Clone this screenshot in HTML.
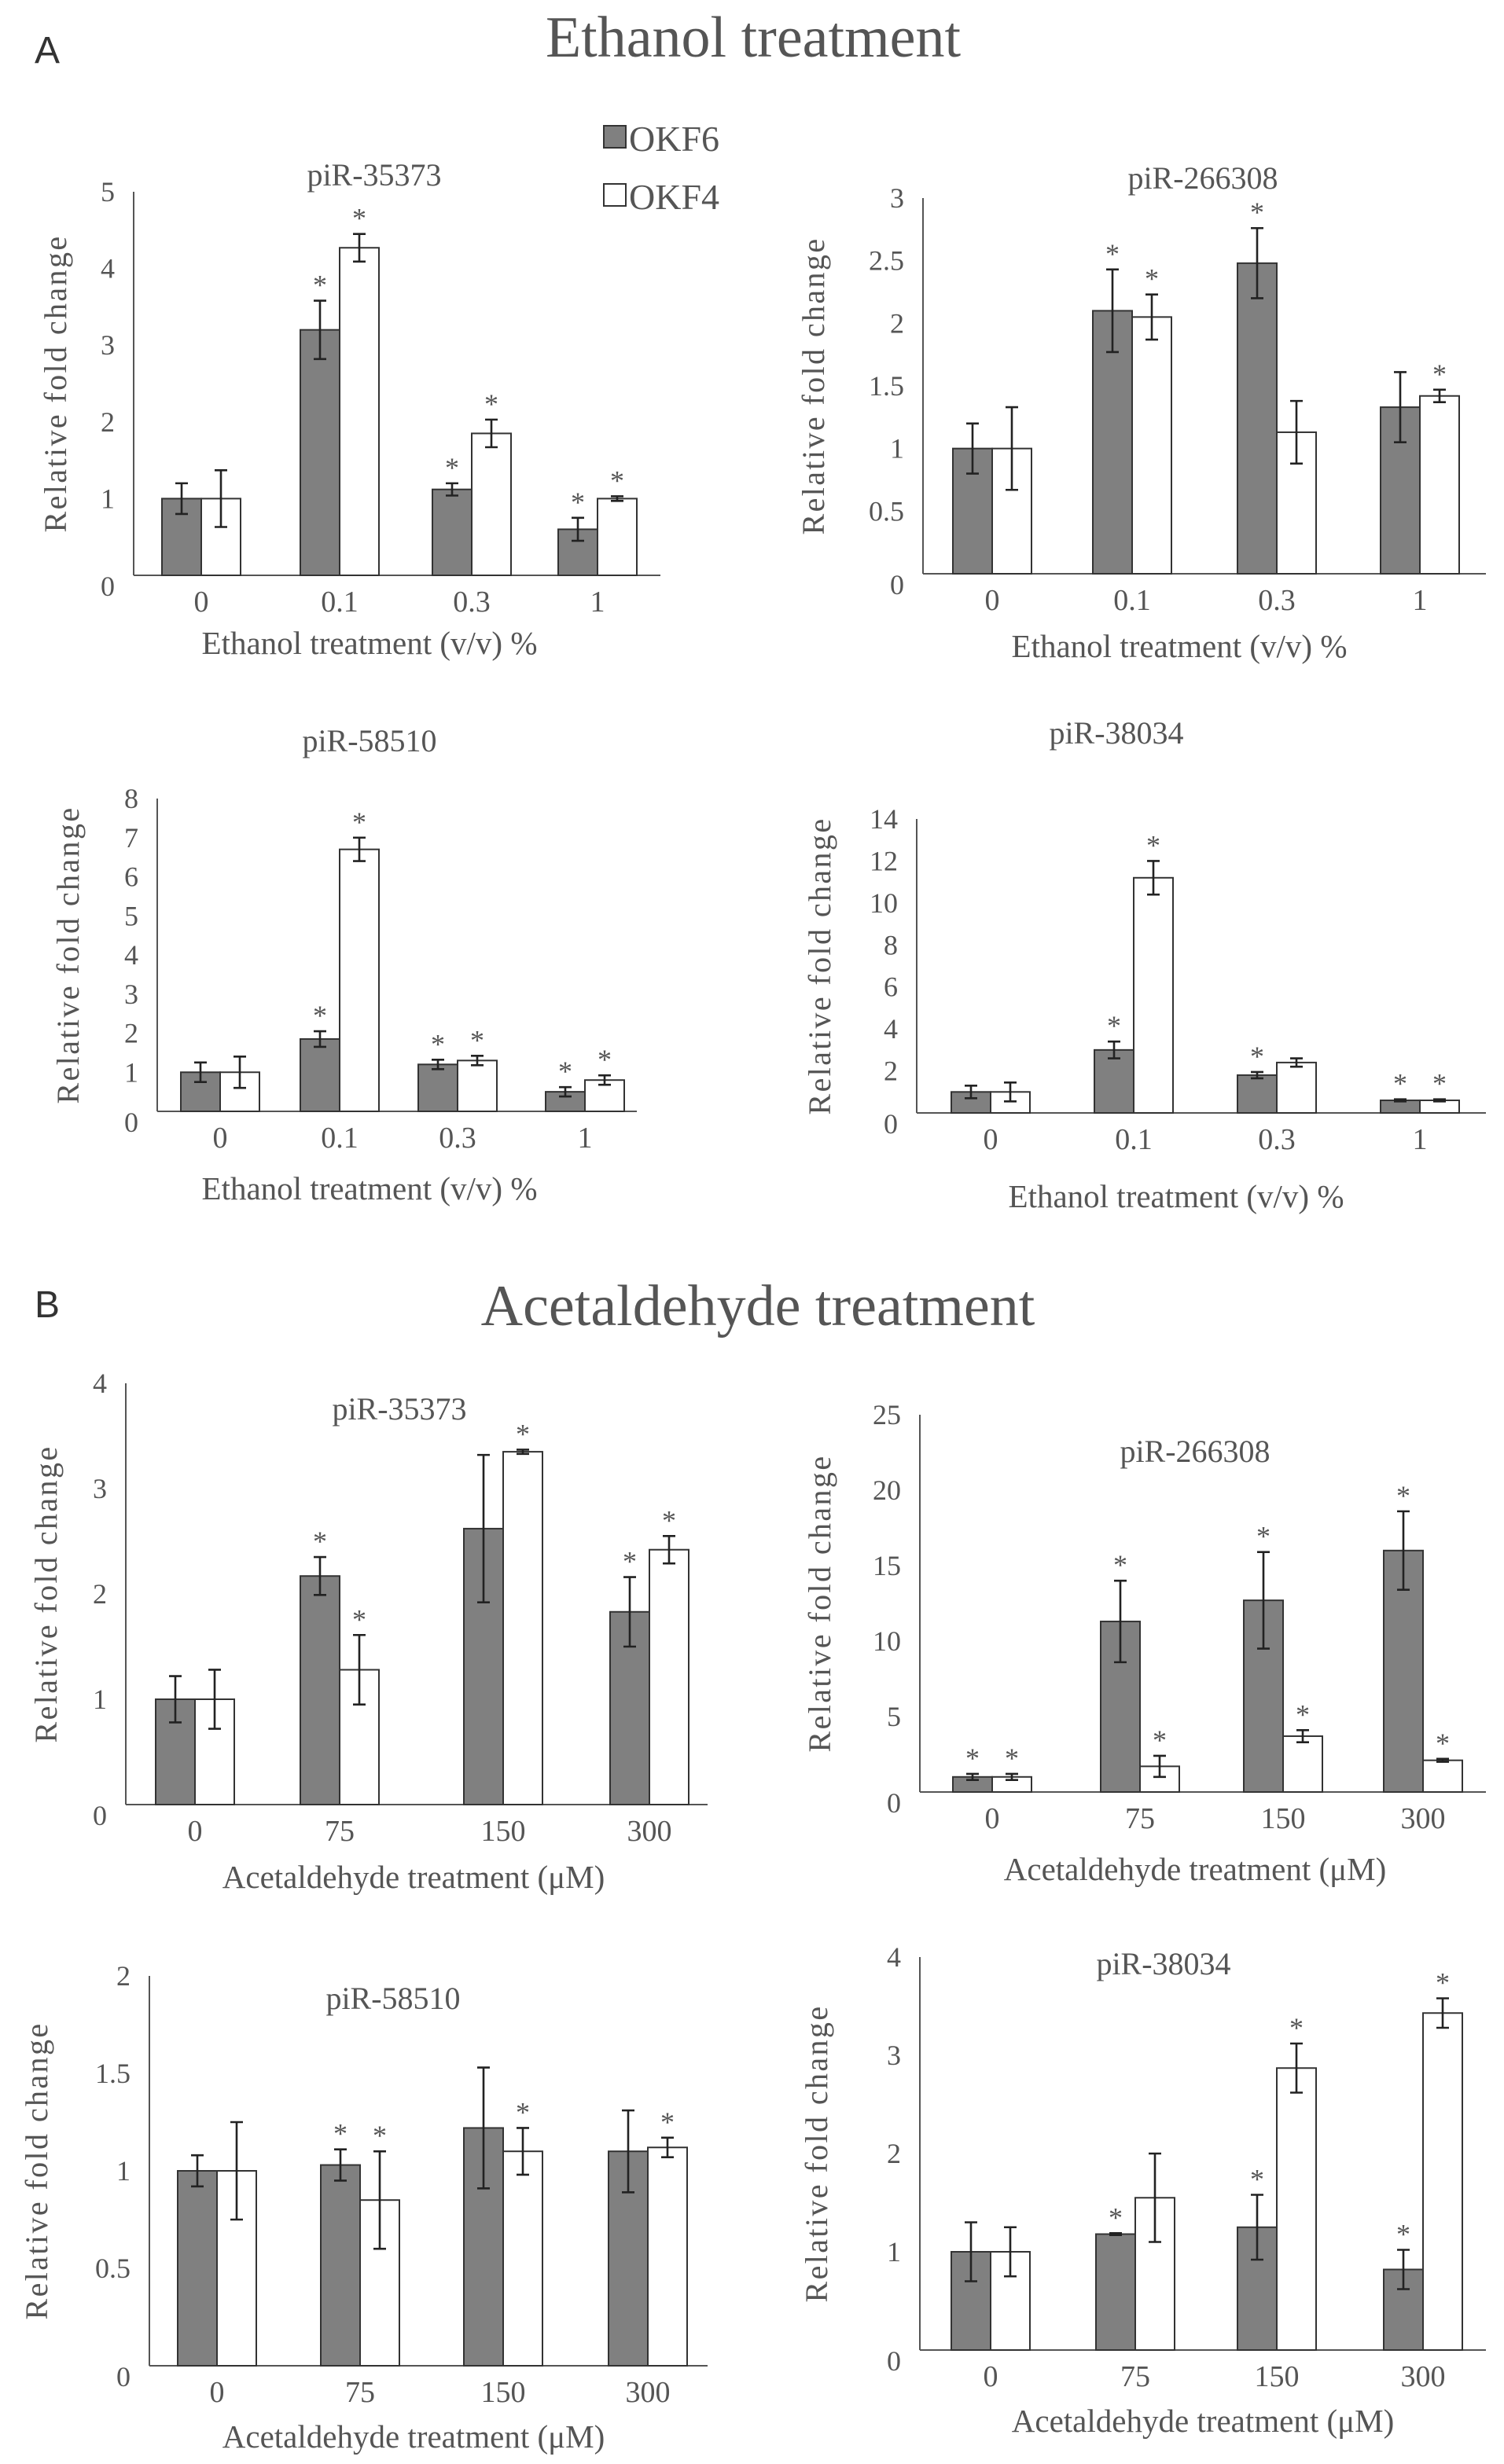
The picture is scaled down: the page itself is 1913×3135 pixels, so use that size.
<!DOCTYPE html>
<html><head><meta charset="utf-8"><style>
html,body{margin:0;padding:0;background:#fff}
svg{display:block}
text{font-family:"Liberation Serif",serif;fill:#555}
</style></head><body>
<svg id="fig" width="1913" height="3135" viewBox="0 0 956.5 1567.5" xmlns="http://www.w3.org/2000/svg">
<text x="22" y="40" font-size="24" style="font-family:'Liberation Sans',sans-serif;fill:#333">A</text>
<text x="479" y="36" font-size="37" text-anchor="middle">Ethanol treatment</text>
<text x="22" y="838" font-size="24" style="font-family:'Liberation Sans',sans-serif;fill:#333">B</text>
<text x="482" y="843" font-size="37" text-anchor="middle">Acetaldehyde treatment</text>
<g>
<rect x="384" y="80" width="14" height="14" fill="#808080" stroke="#333"/>
<text x="400" y="96" font-size="23">OKF6</text>
<rect x="384" y="117" width="14" height="14" fill="#fff" stroke="#333"/>
<text x="400" y="133" font-size="23">OKF4</text>
</g>
</svg>
<script>
// Data arrays
const ethCats = ["0","0.1","0.3","1"];
const aceCats = ["0","75","150","300"];
const a1Okf6 = [1, 3.2, 1.12, 0.6];
const a1Okf6Err = [0.2, 0.38, 0.08, 0.15];
const a1Okf4 = [1, 4.27, 1.85, 1.0];
const a1Okf4Err = [0.37, 0.18, 0.18, 0.03];
const a1Star6 = [0,1,1,1];
const a1Star4 = [0,1,1,1];
const a1Ticks = [0,1,2,3,4,5];
const a2Okf6 = [1, 2.1, 2.48, 1.33];
const a2Okf6Err = [0.2, 0.33, 0.28, 0.28];
const a2Okf4 = [1, 2.05, 1.13, 1.42];
const a2Okf4Err = [0.33, 0.18, 0.25, 0.05];
const a2Star6 = [0,1,1,0];
const a2Star4 = [0,1,0,1];
const a2Ticks = [0,0.5,1,1.5,2,2.5,3];
const a3Okf6 = [1, 1.85, 1.2, 0.5];
const a3Okf6Err = [0.25, 0.2, 0.12, 0.12];
const a3Okf4 = [1, 6.7, 1.3, 0.8];
const a3Okf4Err = [0.4, 0.3, 0.12, 0.12];
const a3Star6 = [0,1,1,1];
const a3Star4 = [0,1,1,1];
const a3Ticks = [0,1,2,3,4,5,6,7,8];
const a4Okf6 = [1, 3, 1.8, 0.6];
const a4Okf6Err = [0.3, 0.4, 0.15, 0.05];
const a4Okf4 = [1, 11.2, 2.4, 0.6];
const a4Okf4Err = [0.45, 0.8, 0.2, 0.05];
const a4Star6 = [0,1,1,1];
const a4Star4 = [0,1,0,1];
const a4Ticks = [0,2,4,6,8,10,12,14];
const b1Okf6 = [1, 2.17, 2.62, 1.83];
const b1Okf6Err = [0.22, 0.18, 0.7, 0.33];
const b1Okf4 = [1, 1.28, 3.35, 2.42];
const b1Okf4Err = [0.28, 0.33, 0.02, 0.13];
const b1Star6 = [0,1,0,1];
const b1Star4 = [0,1,1,1];
const b1Ticks = [0,1,2,3,4];
const b2Okf6 = [1, 11.3, 12.7, 16];
const b2Okf6Err = [0.2, 2.7, 3.2, 2.6];
const b2Okf4 = [1, 1.7, 3.7, 2.1];
const b2Okf4Err = [0.2, 0.7, 0.4, 0.1];
const b2Star6 = [1,1,1,1];
const b2Star4 = [1,1,1,1];
const b2Ticks = [0,5,10,15,20,25];
const b3Okf6 = [1, 1.03, 1.22, 1.1];
const b3Okf6Err = [0.08, 0.08, 0.31, 0.21];
const b3Okf4 = [1, 0.85, 1.1, 1.12];
const b3Okf4Err = [0.25, 0.25, 0.12, 0.05];
const b3Star6 = [0,1,0,0];
const b3Star4 = [0,1,1,1];
const b3Ticks = [0,0.5,1,1.5,2];
const b4Okf6 = [1, 1.18, 1.25, 0.82];
const b4Okf6Err = [0.3, 0.01, 0.33, 0.2];
const b4Okf4 = [1, 1.55, 2.87, 3.43];
const b4Okf4Err = [0.25, 0.45, 0.25, 0.15];
const b4Star6 = [0,1,1,1];
const b4Star4 = [0,0,1,1];
const b4Ticks = [0,1,2,3,4];

const NS = "http://www.w3.org/2000/svg";
const svg = document.getElementById('fig');
function mk(tag, attrs, parent, txt){
  const e = document.createElementNS(NS, tag);
  for (const k in attrs) e.setAttribute(k, attrs[k]);
  if (txt !== undefined) e.textContent = txt;
  parent.appendChild(e);
  return e;
}
function panel(id, title, cats, xTitle, layout, ticks, o6, e6, o4, e4, s6, s4){
  const g = mk('g', {}, svg);
  
  
  const L = layout;
  const ymax = ticks[ticks.length-1];
  const y = v => L.y0 - (v / ymax) * (L.y0 - L.yTop);
  const bw = 25;
  const ax = mk('line', {x1:L.ax, y1:L.yTop, x2:L.ax, y2:L.y0, stroke:'#555', 'stroke-width':1}, g);
  
  
  const xl = mk('line', {x1:L.ax, y1:L.y0, x2:L.xEnd, y2:L.y0, stroke:'#555', 'stroke-width':1}, g);
  
  
  ticks.forEach((t, i) => {
    const ty = i === 0 ? L.y0 + 13 : y(t) + 6;
    const tl = mk('text', {x:L.ax - 12, y:ty, 'font-size':18, 'text-anchor':'end'}, g, String(t));
    
    
  });
  cats.forEach((c, i) => {
    const cx = L.cx[i];
    const cl = mk('text', {x:cx, y:L.y0 + 23, 'font-size':19, 'text-anchor':'middle'}, g, c);
    
    
    [[o6, e6, s6, -bw, '#808080', 'okf6'], [o4, e4, s4, 0, '#fff', 'okf4']].forEach(([vals, errs, stars, off, fill, nm]) => {
      const v = vals[i], top = y(v);
      const r = mk('rect', {x:cx + off, y:top, width:bw, height:L.y0 - top, fill:fill, stroke:'#333', 'stroke-width':1}, g);
      
      
      const mx = cx + off + bw/2, hi = y(v + errs[i]), lo = y(v - errs[i]);
      const eb = mk('path', {d:`M${mx},${hi}V${lo}M${mx-4},${hi}H${mx+4}M${mx-4},${lo}H${mx+4}`, stroke:'#222', 'stroke-width':1.3, fill:'none'}, g);
      
      
      if (stars[i]) {
        const st = mk('text', {x:mx, y:hi - 4, 'font-size':18, 'text-anchor':'middle'}, g, '*');
        
        
      }
    });
  });
  const tt = mk('text', {x:L.tx, y:L.ty, 'font-size':20, 'text-anchor':'middle'}, g, title);
  
  
  const xt = mk('text', {x:L.xtx, y:L.xty, 'font-size':20.5, 'text-anchor':'middle'}, g, xTitle);
  
  
  const yc = (L.y0 + L.yTop) / 2;
  const yt = mk('text', {x:L.ytx, y:yc, 'font-size':20, 'letter-spacing':1.2, 'text-anchor':'middle', transform:`rotate(-90 ${L.ytx} ${yc})`}, g, 'Relative fold change');
  
  
}
const ethX = 'Ethanol treatment (v/v) %';
const aceX = 'Acetaldehyde treatment (\u03bcM)';
panel('a1-pir-35373','piR-35373',ethCats,ethX,{ax:85,xEnd:420,y0:366,yTop:122,cx:[128,216,300,380],tx:238,ty:118,xtx:235,xty:416,ytx:42},a1Ticks,a1Okf6,a1Okf6Err,a1Okf4,a1Okf4Err,a1Star6,a1Star4);
panel('a2-pir-266308','piR-266308',ethCats,ethX,{ax:587,xEnd:945,y0:365,yTop:126,cx:[631,720,812,903],tx:765,ty:120,xtx:750,xty:418,ytx:524},a2Ticks,a2Okf6,a2Okf6Err,a2Okf4,a2Okf4Err,a2Star6,a2Star4);
panel('a3-pir-58510','piR-58510',ethCats,ethX,{ax:100,xEnd:405,y0:707,yTop:508,cx:[140,216,291,372],tx:235,ty:478,xtx:235,xty:763,ytx:50},a3Ticks,a3Okf6,a3Okf6Err,a3Okf4,a3Okf4Err,a3Star6,a3Star4);
panel('a4-pir-38034','piR-38034',ethCats,ethX,{ax:583,xEnd:945,y0:708,yTop:521,cx:[630,721,812,903],tx:710,ty:473,xtx:748,xty:768,ytx:528},a4Ticks,a4Okf6,a4Okf6Err,a4Okf4,a4Okf4Err,a4Star6,a4Star4);
panel('b1-pir-35373','piR-35373',aceCats,aceX,{ax:80,xEnd:450,y0:1148,yTop:880,cx:[124,216,320,413],tx:254,ty:903,xtx:263,xty:1201,ytx:36},b1Ticks,b1Okf6,b1Okf6Err,b1Okf4,b1Okf4Err,b1Star6,b1Star4);
panel('b2-pir-266308','piR-266308',aceCats,aceX,{ax:585,xEnd:945,y0:1140,yTop:900,cx:[631,725,816,905],tx:760,ty:930,xtx:760,xty:1196,ytx:528},b2Ticks,b2Okf6,b2Okf6Err,b2Okf4,b2Okf4Err,b2Star6,b2Star4);
panel('b3-pir-58510','piR-58510',aceCats,aceX,{ax:95,xEnd:450,y0:1505,yTop:1257,cx:[138,229,320,412],tx:250,ty:1278,xtx:263,xty:1557,ytx:30},b3Ticks,b3Okf6,b3Okf6Err,b3Okf4,b3Okf4Err,b3Star6,b3Star4);
panel('b4-pir-38034','piR-38034',aceCats,aceX,{ax:585,xEnd:945,y0:1495,yTop:1245,cx:[630,722,812,905],tx:740,ty:1256,xtx:765,xty:1547,ytx:526},b4Ticks,b4Okf6,b4Okf6Err,b4Okf4,b4Okf4Err,b4Star6,b4Star4);
</script>
</body></html>
